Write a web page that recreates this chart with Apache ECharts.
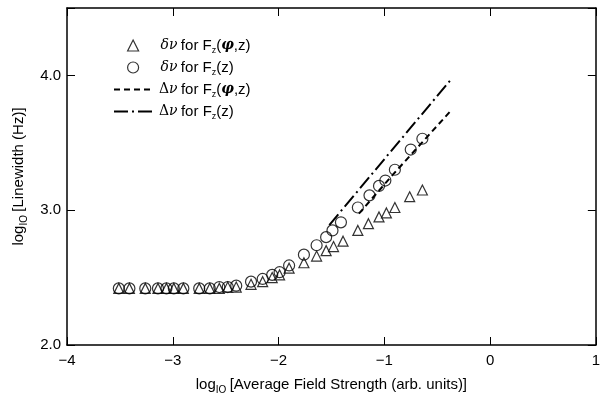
<!DOCTYPE html>
<html>
<head>
<meta charset="utf-8">
<script src="https://cdn.jsdelivr.net/npm/echarts@6/dist/echarts.min.js"></script>
<style>
  html, body { margin: 0; padding: 0; background: #fff; }
  #chart { width: 603px; height: 402px; }
</style>
</head>
<body>
<div id="chart"></div>
<script>
// 数据 (log10 field strength, log10 linewidth)
var circleX = [-3.51, -3.41, -3.26, -3.14, -3.06, -2.99, -2.90, -2.75, -2.65, -2.56, -2.48, -2.40,
  -2.26, -2.15, -2.06, -1.99, -1.90, -1.76, -1.64, -1.55, -1.49, -1.41, -1.25, -1.14, -1.05, -0.99, -0.90, -0.75, -0.64];
var circleY = [2.42, 2.42, 2.42, 2.42, 2.42, 2.42, 2.42, 2.42, 2.42, 2.43, 2.43, 2.44,
  2.47, 2.49, 2.52, 2.54, 2.59, 2.67, 2.74, 2.80, 2.85, 2.91, 3.02, 3.11, 3.18, 3.22, 3.30, 3.45, 3.53];
var triX = [-3.51, -3.41, -3.26, -3.14, -3.06, -2.99, -2.90, -2.75, -2.65, -2.56, -2.48, -2.40,
  -2.26, -2.15, -2.06, -1.99, -1.90, -1.76, -1.64, -1.55, -1.48, -1.39, -1.25, -1.15, -1.05, -0.98, -0.90, -0.76, -0.64];
var triY = [2.42, 2.42, 2.42, 2.42, 2.42, 2.42, 2.42, 2.42, 2.42, 2.42, 2.43, 2.43,
  2.45, 2.47, 2.50, 2.52, 2.57, 2.61, 2.66, 2.70, 2.73, 2.77, 2.85, 2.90, 2.95, 2.98, 3.02, 3.10, 3.15];
var dashX = [-1.24, -0.90, -0.38];
var dashY = [2.975, 3.28, 3.73];
var dashDotX = [-1.52, -0.38];
var dashDotY = [2.89, 3.96];
var xTicks = [-4, -3, -2, -1, 0, 1];
var yTicks = [2, 3, 4];

function pairs(xs, ys) {
  return xs.map(function (x, i) { return [x, ys[i]]; });
}

var chartDom = document.getElementById('chart');
var myChart = echarts.init(chartDom);
var font = "'Liberation Sans Narrow', 'Liberation Sans', Arial, sans-serif";
var legendRich = {
  g: { fontFamily: "'DejaVu Serif', serif", fontStyle: 'italic', fontSize: 14, color: '#000' },
  G: { fontFamily: "'DejaVu Serif', serif", fontSize: 14, color: '#000' },
  a: { fontFamily: font, fontSize: 15, color: '#000' },
  s: { fontFamily: font, fontSize: 9, color: '#000', verticalAlign: 'bottom', padding: [10, 0, 0, 0] },
  p: { fontFamily: "'DejaVu Serif', serif", fontStyle: 'italic', fontWeight: 'bold', fontSize: 14, color: '#000' }
};
function legendText(name) {
  if (name === 'tri') return '{g|δν} {a|for F}{s|z}{a|(}{p|φ}{a|,z)}';
  if (name === 'circ') return '{g|δν} {a|for F}{s|z}{a|(z)}';
  if (name === 'dash') return '{G|Δ}{g|ν} {a|for F}{s|z}{a|(}{p|φ}{a|,z)}';
  return '{G|Δ}{g|ν} {a|for F}{s|z}{a|(z)}';
}
var hidden = { color: 'rgba(0,0,0,0)', borderColor: 'rgba(0,0,0,0)', borderWidth: 0 };
var option = {
  animation: false,
  backgroundColor: '#fff',
  grid: { left: 67, right: 6, top: 8, bottom: 57 },
  legend: [
    {
      orient: 'vertical',
      left: 122,
      top: 33,
      itemGap: 5,
      itemWidth: 11,
      itemHeight: 11,
      data: [
        { name: 'tri', icon: 'triangle', itemStyle: { color: '#fff', borderColor: '#000', borderWidth: 1.2 } },
        { name: 'circ', icon: 'circle', itemStyle: { color: '#fff', borderColor: '#000', borderWidth: 1.2 } }
      ],
      formatter: legendText,
      textStyle: { rich: legendRich, padding: [0, 0, 0, 17] }
    },
    {
      orient: 'vertical',
      left: 108,
      top: 77,
      itemGap: 5,
      itemWidth: 40,
      itemHeight: 12,
      data: [
        { name: 'dash', itemStyle: hidden },
        { name: 'dashdot', itemStyle: hidden }
      ],
      formatter: legendText,
      textStyle: { rich: legendRich }
    }
  ],
  xAxis: [
    {
      type: 'value', min: -4, max: 1, interval: 1,
      name: '{a|log}{s|IO} {a|[Average Field Strength (arb. units)]}',
      nameLocation: 'middle', nameGap: 30,
      nameTextStyle: { rich: {
        a: { fontFamily: font, fontSize: 15, color: '#000' },
        s: { fontFamily: font, fontSize: 10, color: '#000', padding: [10, 0, 0, 0] }
      } },
      axisLine: { onZero: false, lineStyle: { color: '#000', width: 1.5 } },
      axisTick: { inside: true, length: 8, lineStyle: { color: '#000' } },
      axisLabel: {
        color: '#000', fontFamily: font, fontSize: 15, margin: 8,
        formatter: function (v) { return v < 0 ? '\u2212' + (-v) : String(v); }
      },
      splitLine: { show: false }
    },
    {
      type: 'value', min: -4, max: 1, interval: 1, position: 'top',
      axisLine: { onZero: false, lineStyle: { color: '#000', width: 1.5 } },
      axisTick: { inside: true, length: 8, lineStyle: { color: '#000' } },
      axisLabel: { show: false },
      splitLine: { show: false }
    }
  ],
  yAxis: [
    {
      type: 'value', min: 2, max: 4.5, interval: 1,
      name: '{a|log}{s|IO} {a|[Linewidth (Hz)]}',
      nameLocation: 'middle', nameGap: 34, nameRotate: 90,
      nameTextStyle: { rich: {
        a: { fontFamily: font, fontSize: 15, color: '#000' },
        s: { fontFamily: font, fontSize: 10, color: '#000', padding: [10, 0, 0, 0] }
      } },
      axisLine: { onZero: false, lineStyle: { color: '#000', width: 1.5 } },
      axisTick: { inside: true, length: 8, lineStyle: { color: '#000' } },
      axisLabel: {
        color: '#000', fontFamily: font, fontSize: 15, margin: 6,
        formatter: function (v) { return yTicks.indexOf(v) >= 0 ? v.toFixed(1) : ''; }
      },
      splitLine: { show: false }
    },
    {
      type: 'value', min: 2, max: 4.5, interval: 1, position: 'right',
      axisLine: { onZero: false, lineStyle: { color: '#000', width: 1.5 } },
      axisTick: { inside: true, length: 8, lineStyle: { color: '#000' } },
      axisLabel: { show: false },
      splitLine: { show: false }
    }
  ],
  series: [
    {
      name: 'tri', type: 'scatter', symbol: 'triangle', symbolSize: 10,
      itemStyle: { color: '#fff', borderColor: '#000', borderWidth: 1.2 },
      data: pairs(triX, triY), z: 3
    },
    {
      name: 'circ', type: 'scatter', symbol: 'circle', symbolSize: 11,
      itemStyle: { color: 'rgba(255,255,255,0)', borderColor: '#000', borderWidth: 1.2 },
      data: pairs(circleX, circleY), z: 4
    },
    {
      name: 'dash', type: 'line', symbol: 'none', showSymbol: false,
      lineStyle: { color: '#000', width: 2, type: [6, 4] },
      itemStyle: { color: '#000' },
      data: pairs(dashX, dashY), z: 2
    },
    {
      name: 'dashdot', type: 'line', symbol: 'none', showSymbol: false,
      lineStyle: { color: '#000', width: 2, type: [14, 4, 2, 4] },
      itemStyle: { color: '#000' },
      data: pairs(dashDotX, dashDotY), z: 2
    }
  ]
};
option && myChart.setOption(option);
</script>
</body>
</html>
